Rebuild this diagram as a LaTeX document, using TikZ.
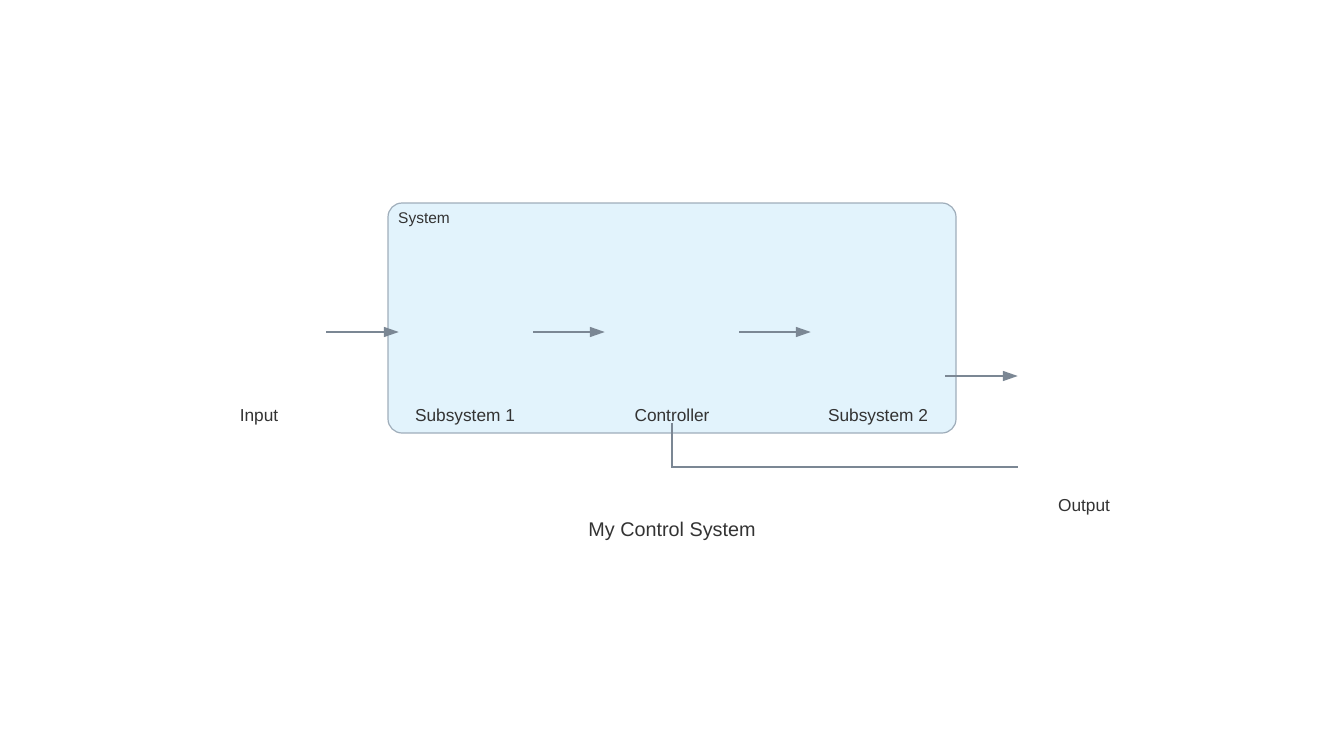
\documentclass[tikz,border=0pt]{standalone}
\usepackage{fontspec}
\setmainfont{Liberation Sans}
\usetikzlibrary{arrows.meta,calc}
\definecolor{linec}{HTML}{7B8794}
\definecolor{boxfill}{HTML}{E2F3FC}
\definecolor{boxdraw}{HTML}{9FADBA}
\definecolor{txt}{HTML}{333333}
\tikzset{
  blk/.style={rectangle,minimum width=134pt,minimum height=182pt,inner sep=0pt,draw=none},
  lbl/.style={text=txt,font=\fontsize{17.3}{20}\selectfont,inner sep=0pt,anchor=base},
  flow/.style={draw=linec,line width=1.5pt,-{Triangle[length=15pt,width=10pt]}},
  fb/.style={draw=linec,line width=1.5pt},
}
\begin{document}
\begin{tikzpicture}[x=1pt,y=-1pt]
\useasboundingbox (0,0) rectangle (1344,736);
% container
\draw[fill=boxfill,draw=boxdraw,line width=1.2pt,rounded corners=14pt] (388,203) rectangle (956,433);
\node[anchor=base west,text=txt,font=\fontsize{15.5}{18}\selectfont,inner sep=0pt] (sys) at (398,223.5) {System};
% invisible blocks
\node[blk] (in) at (259,332) {};
\node[blk] (s1) at (466,332) {};
\node[blk] (ctrl) at (672,332) {};
\node[blk] (s2) at (878,332) {};
\node[blk] (out) at (1085,376) {};
% labels
\node[lbl] (inl) at (259,421) {Input};
\node[lbl] (s1l) at (465,421) {Subsystem 1};
\node[lbl] (ctrll) at (672,421) {Controller};
\node[lbl] (s2l) at (878,421) {Subsystem 2};
\node[lbl] (outl) at (1084,511) {Output};
\node[text=txt,font=\fontsize{19.8}{24}\selectfont,inner sep=0pt,anchor=base] (title) at (672,536) {My Control System};
% connectors
\draw[flow] (in.east) -- (s1.west);
\draw[flow] (s1.east) -- (ctrl.west);
\draw[flow] (ctrl.east) -- (s2.west);
\draw[flow] (s2.east |- out.west) -- (out.west);
\draw[fb] (ctrl.south) |- (out.south west);
\end{tikzpicture}
\end{document}
